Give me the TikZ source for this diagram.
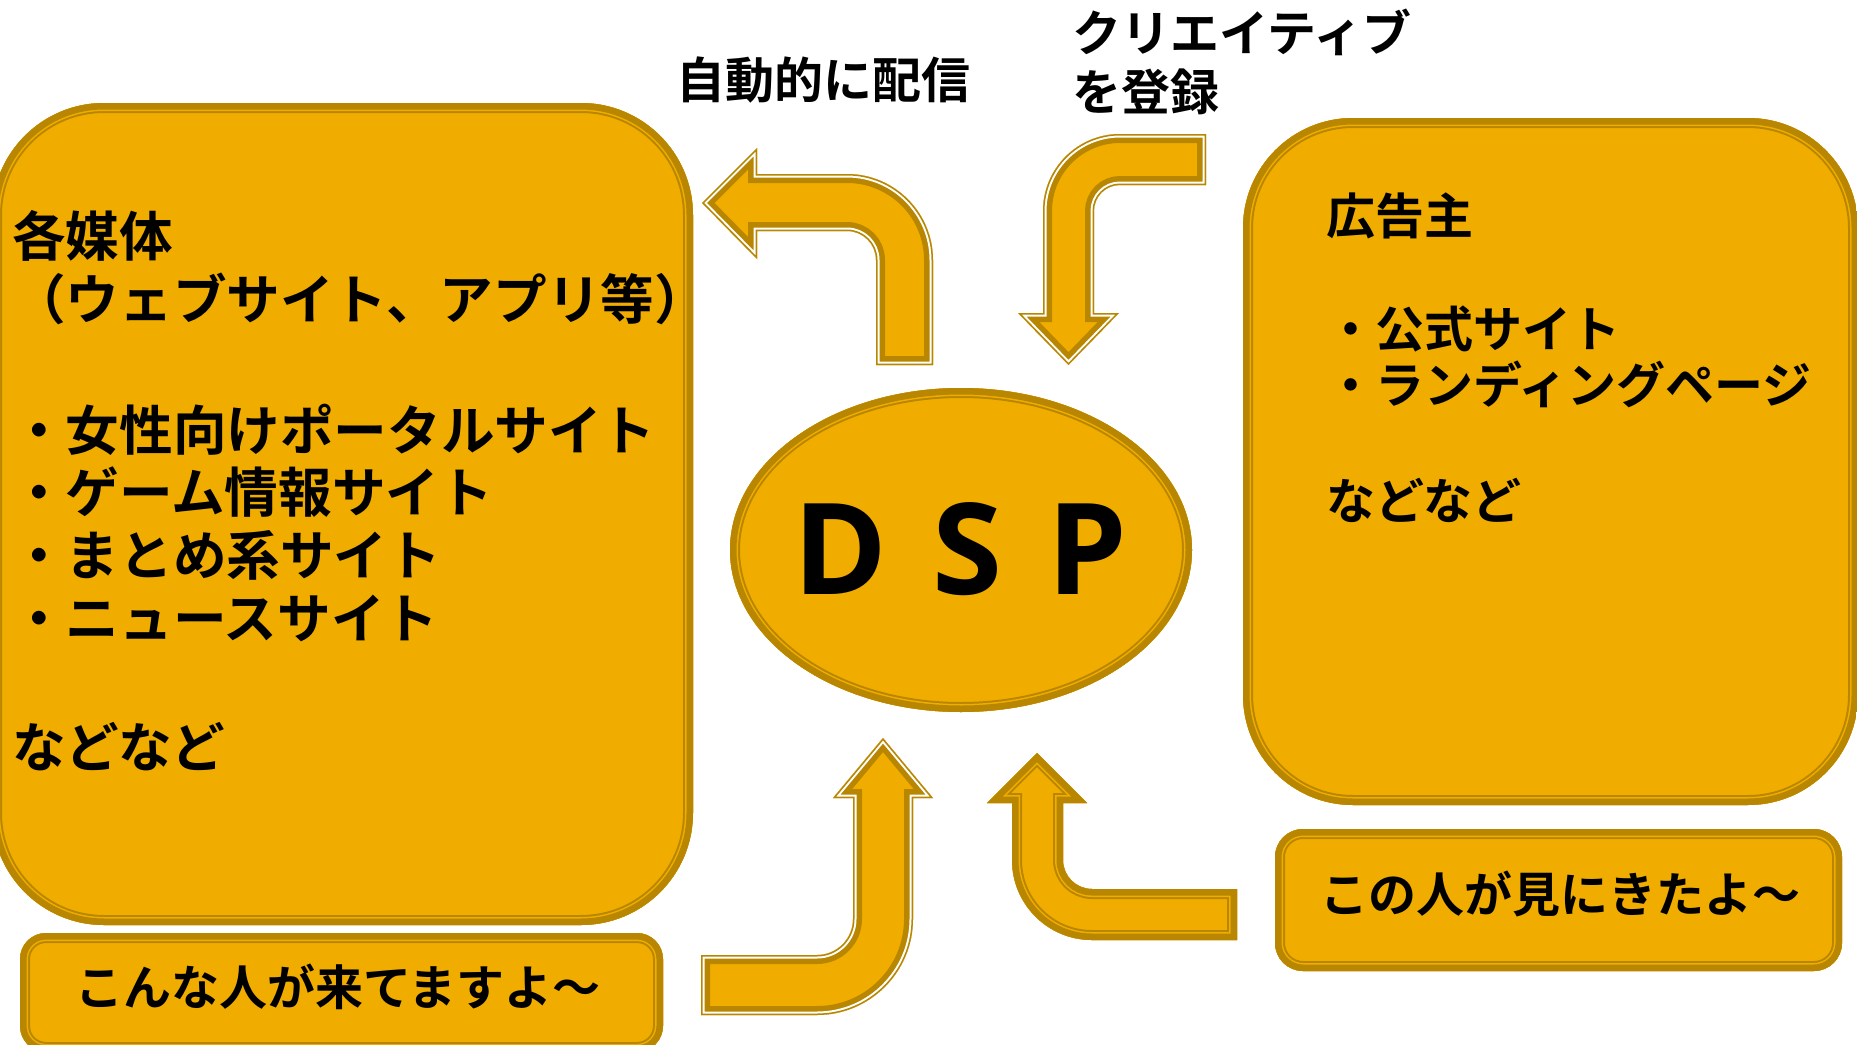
\documentclass[tikz,border=0pt]{standalone}
\usepackage{fontspec}
\newfontfamily\jpfont{Noto Sans CJK JP}[BoldFont={Noto Sans CJK JP Bold}]
\newfontfamily\dspfont{Open Sans}
\definecolor{gold}{RGB}{240,173,0}
\definecolor{dark}{RGB}{184,134,0}
\newcommand\goldbox[1]{\begin{scope}\clip #1;\fill[gold] #1;
  \draw[dark,line width=20pt] #1;\draw[gold,line width=16pt] #1;
  \draw[dark,line width=13pt] #1;\end{scope}}
\newcommand\goldarrow[1]{\begin{scope}\clip #1;\fill[gold] #1;
  \draw[dark,line width=18pt] #1;\draw[white,line width=7pt] #1;
  \draw[dark,line width=3pt] #1;\end{scope}}
\tikzset{
  txt/.style={inner sep=0pt, anchor=base west},
  L/.style={txt, font={\jpfont\bfseries\fontsize{53.6pt}{60pt}\selectfont}},
  R/.style={txt, font={\jpfont\bfseries\fontsize{49pt}{55pt}\selectfont}},
  T/.style={txt, font={\jpfont\bfseries\fontsize{49pt}{54pt}\selectfont}},
  B/.style={txt, anchor=base, font={\jpfont\bfseries\fontsize{48pt}{52pt}\selectfont}},
}
\begin{document}
\begin{tikzpicture}[x=1pt,y=-1pt]
\fill[white] (0,0) rectangle (1857,1044);
\useasboundingbox (0,0) rectangle (1857,1044);
\clip (0,0) rectangle (1857,1044);
% boxes
\goldbox{[rounded corners=112pt] (-8,103) rectangle (693,925)}
\goldbox{[rounded corners=110pt] (1243,118) rectangle (1858,805)}
\goldbox{[rounded corners=26pt] (20,933) rectangle (663,1052)}
\goldbox{[rounded corners=28pt] (1275,829) rectangle (1842,971)}
\goldbox{(961,550) ellipse [x radius=231pt, y radius=162pt]}
% arrows
\goldarrow{(702,203) -- (757,148) -- (757,174) -- (847,174) .. controls (894.5,174) and (933,212.5) .. (933,260) -- (933,365) -- (876,365) -- (876,260) .. controls (876,244) and (863,231) .. (847,231) -- (757,231) -- (757,259) -- cycle}
\goldarrow{(1206,134) -- (1120,134) .. controls (1077.5,134) and (1043,168.5) .. (1043,211) -- (1043,313) -- (1018,313) -- (1068.5,365) -- (1119,313) -- (1094,313) -- (1094,211) .. controls (1094,196.6) and (1105.6,185) .. (1120,185) -- (1206,185) -- cycle}
\goldarrow{(701,955) -- (817,955) .. controls (836.9,955) and (853,938.9) .. (853,919) -- (853,798) -- (833,798) -- (883,738) -- (933,798) -- (913,798) -- (913,919) .. controls (913,972) and (870,1015) .. (817,1015) -- (701,1015) -- cycle}
\goldbox{(1037,753) -- (1087,803) -- (1063,803) -- (1063,860) .. controls (1063,876) and (1076,889) .. (1092,889) -- (1237,889) -- (1237,940) -- (1092,940) .. controls (1047.8,940) and (1012,904.2) .. (1012,860) -- (1012,803) -- (987,803) -- cycle}
% texts
\node[L] (m0) at (12,256) {各媒体};
\node[L] (m1) at (12,319) {（ウェブサイト、アプリ等）};
\node[L] (m2) at (12,450) {・女性向けポータルサイト};
\node[L] (m3) at (12,512) {・ゲーム情報サイト};
\node[L] (m4) at (12,575) {・まとめ系サイト};
\node[L] (m5) at (12,638) {・ニュースサイト};
\node[L] (m6) at (12,767) {などなど};
\node[R] (a0) at (1326,234) {広告主};
\node[R] (a1) at (1326,347) {・公式サイト};
\node[R] (a2) at (1326,403) {・ランディングページ};
\node[R] (a3) at (1326,519) {などなど};
\node[T, anchor=base] (t1) at (823,98) {自動的に配信};
\node[T] (t2) at (1072,51) {クリエイティブ};
\node[T] (t3) at (1072,110) {を登録};
\node[B] (b1) at (338,1005) {こんな人が来てますよ〜};
\node[B] (b2) at (1560,912) {この人が見にきたよ〜};
\node[inner sep=0pt, anchor=base, font={\dspfont\bfseries\fontsize{127pt}{130pt}\selectfont}] (dsp) at (960,594) {D\kern12pt\ S\kern12pt\ P};
\end{tikzpicture}
\end{document}
